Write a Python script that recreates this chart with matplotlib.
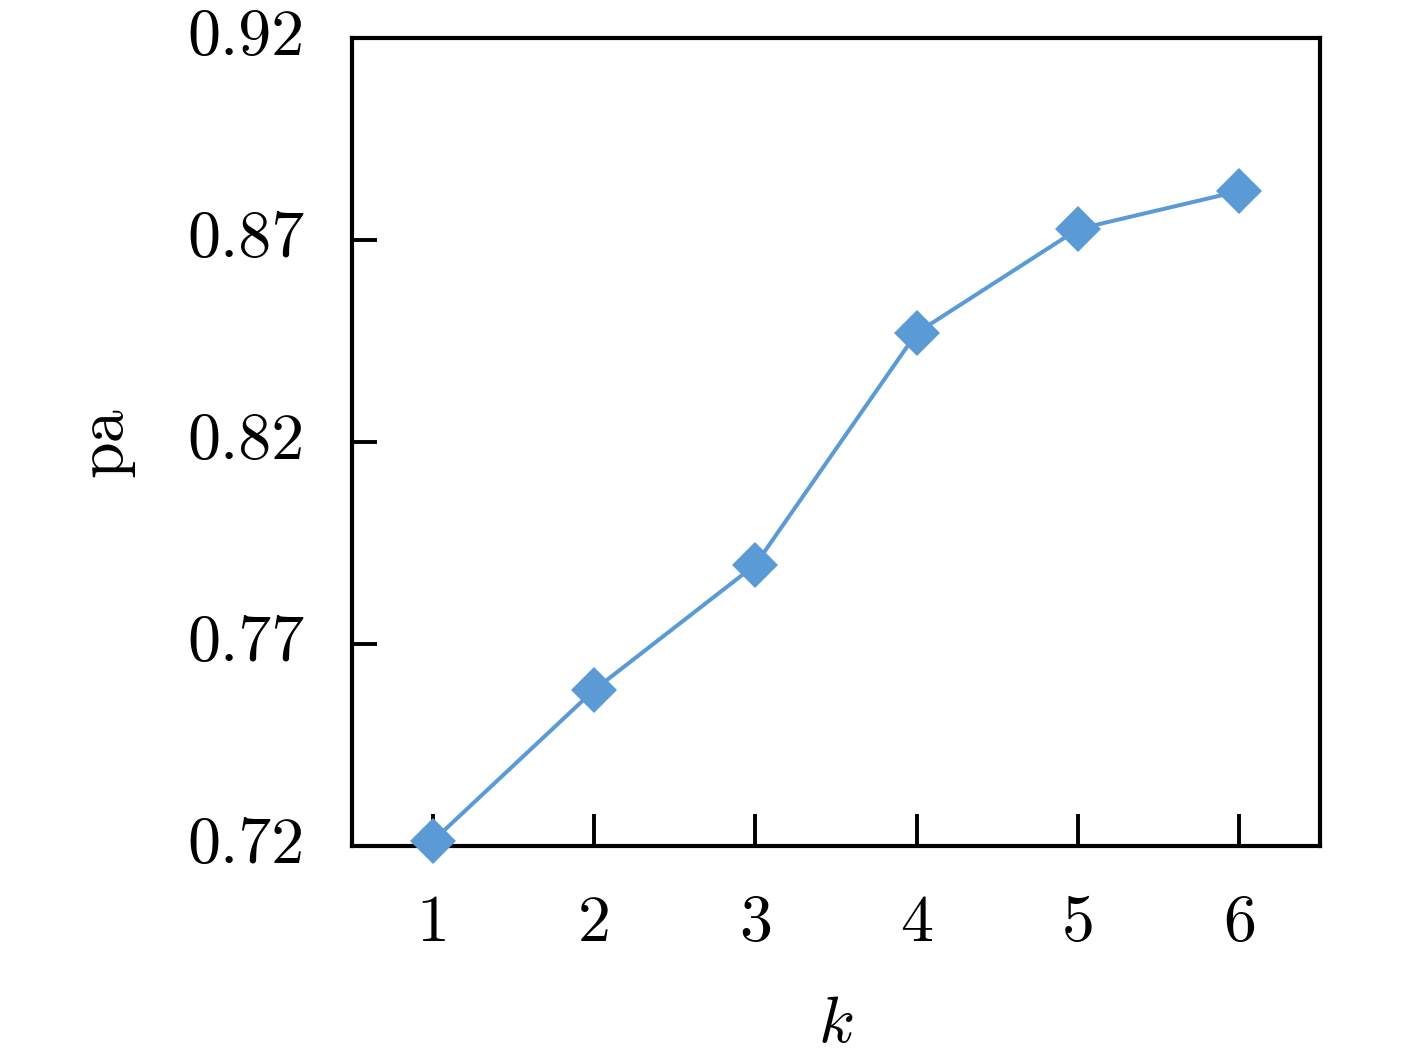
import matplotlib
matplotlib.use("Agg")
import matplotlib.pyplot as plt
from matplotlib.transforms import ScaledTranslation

k_values = [1, 2, 3, 4, 5, 6]
pa_values = [0.7212, 0.7586, 0.7896, 0.8470, 0.8727, 0.8821]
y_ticks = [0.72, 0.77, 0.82, 0.87, 0.92]
y_tick_labels = ["0.72", "0.77", "0.82", "0.87", "0.92"]

plt.rcParams["font.family"] = "serif"
plt.rcParams["font.serif"] = ["cmr10"]
plt.rcParams["mathtext.fontset"] = "cm"
plt.rcParams["axes.unicode_minus"] = False

fig = plt.figure(figsize=(14.17, 10.54), dpi=100)
ax = fig.add_axes([352/1417, 1 - 846/1054, (1320-352)/1417, (846-38)/1054])

ax.plot(k_values, pa_values, color="#5B9BD5", lw=2.9, marker="D", ms=23,
        markeredgewidth=0, clip_on=False, zorder=3)

ax.set_xlim(0.5, 6.5)
ax.set_ylim(0.72, 0.92)
ax.set_xticks(k_values)
ax.set_xticklabels([str(v) for v in k_values])
ax.set_yticks(y_ticks)
ax.set_yticklabels(y_tick_labels)

for s in ax.spines.values():
    s.set_linewidth(3.0)
ax.tick_params(axis="both", which="major", direction="in", labelsize=47.5,
               width=2.8, top=False, right=False)
ax.tick_params(axis="y", length=18, pad=34)
ax.tick_params(axis="x", length=23, pad=35)

shift = ScaledTranslation(0, 6/100, fig.dpi_scale_trans)
for lbl in ax.get_yticklabels():
    lbl.set_transform(lbl.get_transform() + shift)

ax.set_xlabel("$k$", fontsize=47.5, labelpad=30)
ax.set_ylabel("pa", fontsize=47.5, labelpad=38)

fig.savefig("out.png", dpi=100)
